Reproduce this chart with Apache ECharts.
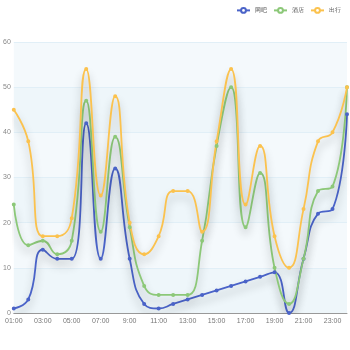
<!DOCTYPE html>
<html>
<head>
<meta charset="utf-8">
<script src="https://cdn.jsdelivr.net/npm/echarts@6/dist/echarts.min.js"></script>
<style>
  html, body { margin: 0; padding: 0; background: #fff; }
  #main { width: 350px; height: 350px; }
</style>
</head>
<body>
<div id="main"></div>
<script>
// Hourly categories
var hours = ['01:00','02:00','03:00','04:00','05:00','06:00','07:00','08:00','9:00','10:00','11:00','12:00',
             '13:00','14:00','15:00','16:00','17:00','18:00','19:00','20:00','21:00','22:00','23:00','24:00'];

var seriesNames = ['网吧', '酒店', '出行'];

// Values per hour
var netCafe = [1, 3, 14, 12, 12, 42, 12, 32, 12, 2, 1, 2, 3, 4, 5, 6, 7, 8, 9, 0, 12, 22, 23, 44];
var hotel   = [24, 15, 16, 13, 16, 47, 18, 39, 19, 6, 4, 4, 4, 16, 37, 50, 19, 31, 10, 2, 12, 27, 28, 50];
var travel  = [45, 38, 17, 17, 21, 54, 26, 48, 20, 13, 17, 27, 27, 18, 38, 54, 24, 37, 17, 10, 23, 38, 40, 50];

var yTicks = { min: 0, max: 60, interval: 10 };

var colors = ['#4a63c8', '#8cc878', '#fbc24e'];

function makeSeries(name, data, color) {
  return {
    name: name,
    type: 'line',
    smooth: true,
    data: data,
    symbol: 'emptyCircle',
    symbolSize: 2,
    itemStyle: { color: color, borderWidth: 1 },
    lineStyle: {
      width: 1.8,
      color: color,
      shadowColor: 'rgba(0,0,0,0.3)',
      shadowBlur: 8,
      shadowOffsetY: 6
    }
  };
}

var chart = echarts.init(document.getElementById('main'));
chart.setOption({
  animation: false,
  color: colors,
  legend: {
    data: seriesNames,
    right: 4,
    top: 2,
    itemWidth: 13,
    itemHeight: 6,
    itemGap: 6,
    textStyle: { fontSize: 6, color: '#555' }
  },
  grid: { left: 13, right: 3, top: 42, bottom: 37 },
  xAxis: {
    type: 'category',
    boundaryGap: false,
    data: hours,
    axisLine: { lineStyle: { color: '#999' } },
    axisTick: { show: false },
    axisLabel: { interval: 1, fontSize: 7, color: '#777', margin: 5 }
  },
  yAxis: {
    type: 'value',
    min: yTicks.min,
    max: yTicks.max,
    interval: yTicks.interval,
    axisLine: { show: false },
    axisTick: { show: false },
    axisLabel: { fontSize: 7, color: '#888', margin: 3 },
    splitLine: { lineStyle: { color: '#e1eff7' } },
    splitArea: {
      show: true,
      areaStyle: { color: ['#eef6fa', '#f4f9fc'] }
    }
  },
  series: [
    makeSeries(seriesNames[0], netCafe, colors[0]),
    makeSeries(seriesNames[1], hotel, colors[1]),
    makeSeries(seriesNames[2], travel, colors[2])
  ]
});
</script>
</body>
</html>
